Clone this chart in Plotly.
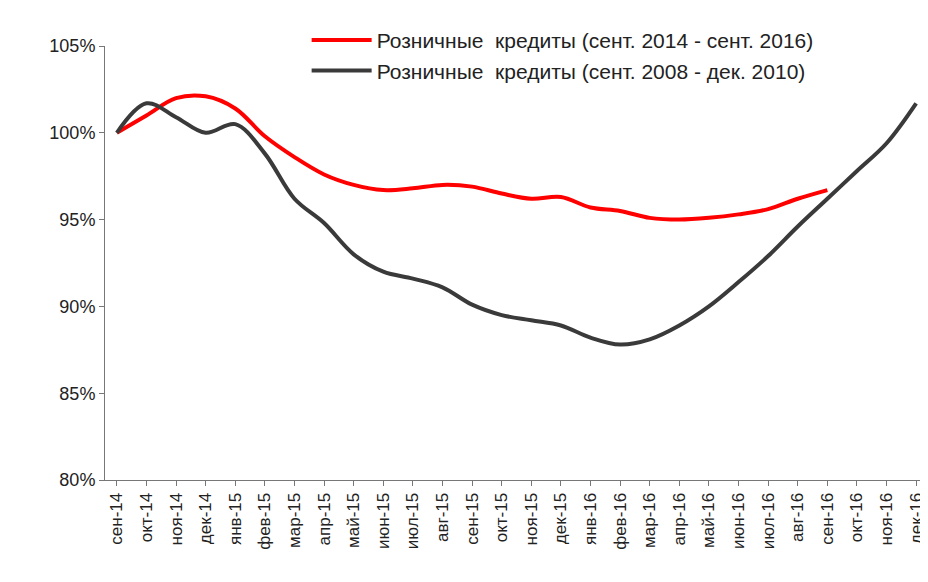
import plotly.graph_objects as go

months = ["сен-14","окт-14","ноя-14","дек-14","янв-15","фев-15","мар-15","апр-15","май-15","июн-15",
          "июл-15","авг-15","сен-15","окт-15","ноя-15","дек-15","янв-16","фев-16","мар-16","апр-16",
          "май-16","июн-16","июл-16","авг-16","сен-16","окт-16","ноя-16","дек-16"]
red = [100,101.0,102.0,102.1,101.4,99.8,98.6,97.6,97.0,96.7,96.8,97.0,96.9,96.5,96.2,96.3,
       95.7,95.5,95.1,95.0,95.1,95.3,95.6,96.2,96.7]
black = [100,101.7,100.9,100.0,100.5,98.8,96.2,94.8,93.0,92.0,91.6,91.1,90.1,89.5,89.2,88.9,
         88.2,87.8,88.1,88.9,90.0,91.4,92.9,94.6,96.2,97.8,99.4,101.7]

fig = go.Figure()
fig.add_trace(go.Scatter(x=months[:len(red)], y=red, mode="lines", line=dict(color="#ff0000", width=4, shape="spline"),
                         name="Розничные  кредиты (сент. 2014 - сент. 2016)"))
fig.add_trace(go.Scatter(x=months, y=black, mode="lines", line=dict(color="#3a3a3a", width=4, shape="spline"),
                         name="Розничные  кредиты (сент. 2008 - дек. 2010)"))
fig.update_layout(
    width=928, height=582, paper_bgcolor="white", plot_bgcolor="white",
    margin=dict(l=97, r=8, t=38, b=110),
    font=dict(family="Liberation Sans, Arial", size=17, color="#222"),
    legend=dict(x=0.245, y=1.06, xanchor="left", yanchor="top", bgcolor="rgba(0,0,0,0)",
                font=dict(size=21), tracegroupgap=14, itemwidth=60),
    showlegend=True,
)
fig.update_xaxes(tickangle=-90, showline=True, linecolor="#777", ticks="outside", tickcolor="#777",
                 showgrid=False, range=[-0.4, 27.4], tickfont=dict(size=17))
fig.update_yaxes(range=[80, 105], tickvals=[80,85,90,95,100,105],
                 ticktext=["80%","85%","90%","95%","100%","105%"], showline=True, linecolor="#777",
                 ticks="outside", tickcolor="#777", showgrid=False, tickfont=dict(size=18))
fig.write_html("out.html")
